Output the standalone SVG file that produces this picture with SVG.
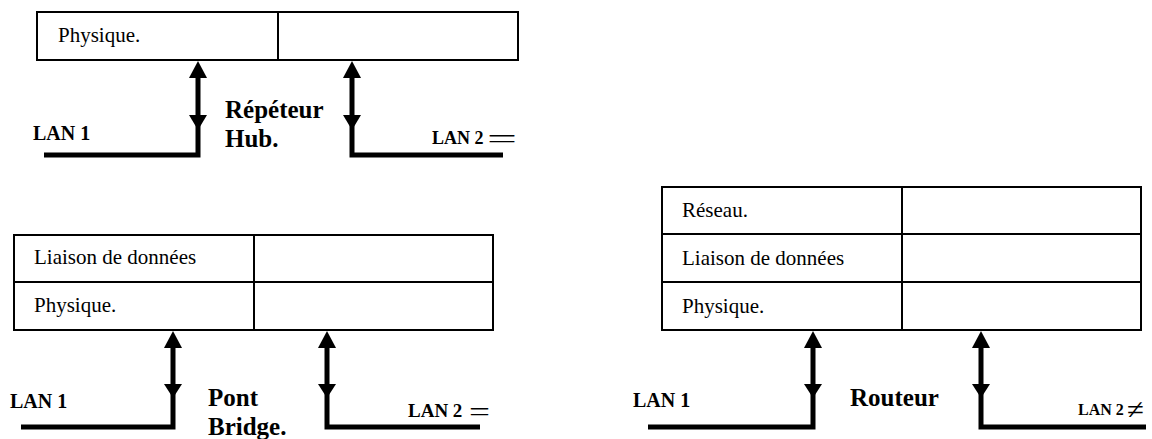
<svg xmlns="http://www.w3.org/2000/svg" width="1152" height="439" viewBox="0 0 1152 439">
<style>
.box{fill:#fff;stroke:#000;stroke-width:2}
.div{stroke:#000;stroke-width:2}
.t{font-family:"Liberation Serif","Times New Roman",serif;font-size:21px;fill:#000}
.b{font-family:"Liberation Serif","Times New Roman",serif;font-weight:bold;font-size:25px;fill:#000}
.lan1{font-family:"Liberation Serif","Times New Roman",serif;font-weight:bold;font-size:20px;fill:#000}
.lan2{font-family:"Liberation Serif","Times New Roman",serif;font-weight:bold;font-size:18px;fill:#000}
.sym{font-family:"Liberation Serif","Times New Roman",serif;font-size:28px;fill:#000}
.wire{fill:none;stroke:#000;stroke-width:5}
.head{fill:#000}
</style>
<rect width="1152" height="439" fill="#fff"/>

<g id="hub">
  <rect class="box" x="37" y="12" width="481" height="48"/>
  <line class="div" x1="278" y1="12" x2="278" y2="60"/>
  <text class="t" x="58" y="42">Physique.</text>
  <text class="b" x="225" y="118">Répéteur</text>
  <text class="b" x="225" y="147">Hub.</text>
  <text class="lan1" x="33" y="140">LAN 1</text>
  <text class="lan2" x="432" y="144">LAN 2</text>
  <text class="sym" x="487" y="148" textLength="30" lengthAdjust="spacingAndGlyphs">=</text>
</g>

<g id="bridge">
  <rect class="box" x="14" y="235" width="479" height="95"/>
  <line class="div" x1="14" y1="282" x2="493" y2="282"/>
  <line class="div" x1="254" y1="235" x2="254" y2="330"/>
  <text class="t" x="34" y="264">Liaison de données</text>
  <text class="t" x="34" y="312">Physique.</text>
  <text class="b" x="208" y="406">Pont</text>
  <text class="b" x="208" y="435">Bridge.</text>
  <text class="lan1" x="10" y="408">LAN 1</text>
  <text class="lan2" x="408" y="417" style="font-size:19px">LAN 2</text>
  <text class="sym" x="469" y="421" textLength="21" lengthAdjust="spacingAndGlyphs">=</text>
</g>

<g id="router">
  <rect class="box" x="662" y="187" width="479" height="143"/>
  <line class="div" x1="662" y1="234" x2="1141" y2="234"/>
  <line class="div" x1="662" y1="282" x2="1141" y2="282"/>
  <line class="div" x1="902" y1="187" x2="902" y2="330"/>
  <text class="t" x="682" y="217">Réseau.</text>
  <text class="t" x="682" y="265">Liaison de données</text>
  <text class="t" x="682" y="313">Physique.</text>
  <text class="b" x="850" y="406">Routeur</text>
  <text class="lan1" x="633" y="407">LAN 1</text>
  <text class="lan2" x="1078" y="415" style="font-size:16px">LAN 2</text>
  <text class="sym" x="1127" y="419" textLength="17" lengthAdjust="spacingAndGlyphs">≠</text>
</g>

<g id="connectors">
  <path class="wire" d="M44 155 H198 V77"/>
  <polygon class="head" points="189,78 207,78 198,61"/>
  <polygon class="head" points="189,115 207,115 198,130"/>
  <path class="wire" d="M503 155 H352 V77"/>
  <polygon class="head" points="343,78 361,78 352,61"/>
  <polygon class="head" points="343,115 361,115 352,130"/>
  <path class="wire" d="M21 427 H173 V347"/>
  <polygon class="head" points="164,348 182,348 173,331"/>
  <polygon class="head" points="164,384 182,384 173,398"/>
  <path class="wire" d="M480 427 H327 V347"/>
  <polygon class="head" points="318,348 336,348 327,331"/>
  <polygon class="head" points="318,384 336,384 327,398"/>
  <path class="wire" d="M648 427 H813 V347"/>
  <polygon class="head" points="804,348 822,348 813,331"/>
  <polygon class="head" points="804,384 822,384 813,398"/>
  <path class="wire" d="M1146 427 H981 V347"/>
  <polygon class="head" points="972,348 990,348 981,331"/>
  <polygon class="head" points="972,384 990,384 981,398"/>
</g>
</svg>
